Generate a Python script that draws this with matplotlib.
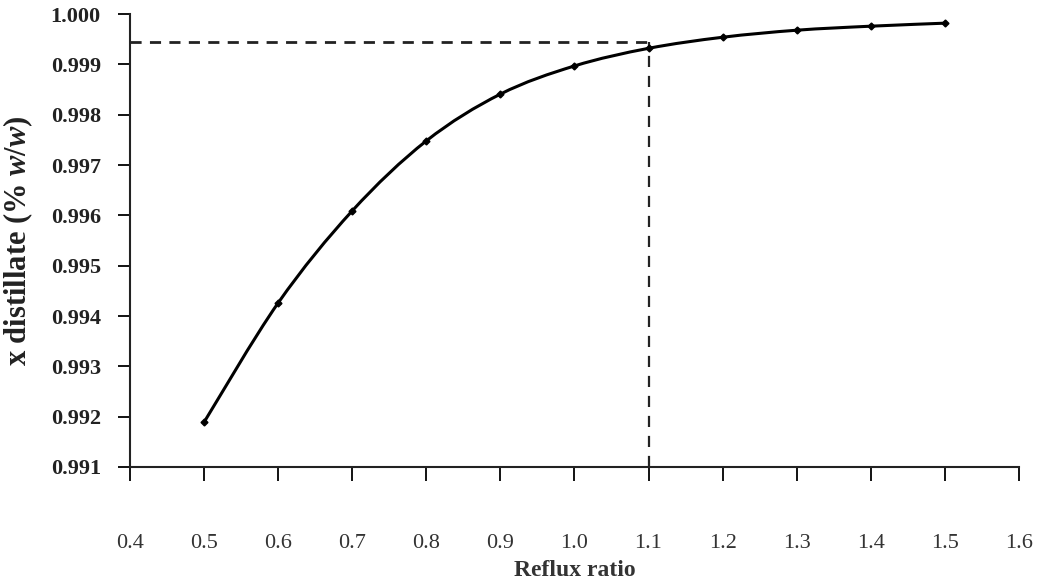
import matplotlib.pyplot as plt
from matplotlib.path import Path
from matplotlib.patches import PathPatch

# Data
reflux = [0.5, 0.6, 0.7, 0.8, 0.9, 1.0, 1.1, 1.2, 1.3, 1.4, 1.5]
x_distillate = [0.99189, 0.99426, 0.99609, 0.99748, 0.99841, 0.99897,
                0.99932, 0.99954, 0.99968, 0.99976, 0.99982]
chosen_reflux = 1.1
chosen_purity = 0.99944

x_ticks = [0.4, 0.5, 0.6, 0.7, 0.8, 0.9, 1.0, 1.1, 1.2, 1.3, 1.4, 1.5, 1.6]
y_ticks = [0.991, 0.992, 0.993, 0.994, 0.995, 0.996, 0.997, 0.998, 0.999, 1.000]

plt.rcParams['font.family'] = ['Liberation Serif', 'DejaVu Serif']
plt.rcParams['mathtext.fontset'] = 'custom'
plt.rcParams['mathtext.it'] = 'Liberation Serif:italic:bold'
plt.rcParams['mathtext.rm'] = 'Liberation Serif:bold'

fig = plt.figure(figsize=(10.44, 5.88), dpi=100)
ax = fig.add_axes([0.1245, 0.2058, 0.8515, 0.7702])

# smoothed line through the points (Excel-style, Catmull-Rom as Bezier)
pts = list(zip(reflux, x_distillate))
verts = [pts[0]]
codes = [Path.MOVETO]
n = len(pts)
for i in range(n - 1):
    p0 = pts[i - 1] if i > 0 else pts[i]
    p1 = pts[i]
    p2 = pts[i + 1]
    p3 = pts[i + 2] if i + 2 < n else pts[i + 1]
    c1 = (p1[0] + (p2[0] - p0[0]) / 6, p1[1] + (p2[1] - p0[1]) / 6)
    c2 = (p2[0] - (p3[0] - p1[0]) / 6, p2[1] - (p3[1] - p1[1]) / 6)
    verts += [c1, c2, p2]
    codes += [Path.CURVE4] * 3
ax.add_patch(PathPatch(Path(verts, codes), facecolor='none',
                       edgecolor='black', lw=2.2, zorder=3))
ax.plot(reflux, x_distillate, ls='none', color='black', marker='D', ms=3.5,
        zorder=4)

# dashed guide lines
ax.plot([0.4, chosen_reflux], [chosen_purity, chosen_purity], color='#222222',
        lw=2, ls=(0, (4, 3)))
ax.plot([chosen_reflux, chosen_reflux], [0.991, chosen_purity], color='#222222',
        lw=1.6, ls=(0, (5, 4)))

ax.set_xlim(0.4, 1.6)
ax.set_ylim(0.991, 1.000)
ax.set_xticks(x_ticks)
ax.set_xticklabels([f'{v:.1f}' for v in x_ticks], fontsize=16, color='#333333')
ax.set_yticks(y_ticks)
ax.set_yticklabels([f'{v:.3f}' for v in y_ticks], fontsize=16, fontweight='bold',
                   color='#222222')

for side in ['top', 'right']:
    ax.spines[side].set_visible(False)
for side in ['left', 'bottom']:
    ax.spines[side].set_linewidth(1.5)
    ax.spines[side].set_color('#222222')

ax.tick_params(axis='x', direction='out', length=10, width=1.3, pad=38)
ax.tick_params(axis='y', direction='out', length=9, width=1.3, pad=12)

ax.set_xlabel('Reflux ratio', fontsize=17, fontweight='bold', color='#333333',
              labelpad=5)
ax.set_ylabel(r'x distillate (% $w/w$)', fontsize=22, fontweight='bold',
              color='#222222', labelpad=11)

fig.savefig('out.png', dpi=100)
